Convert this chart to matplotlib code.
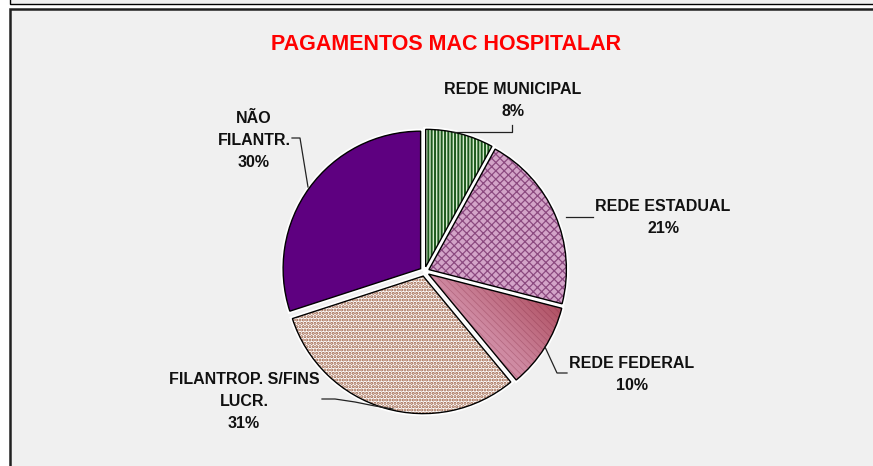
import numpy as np
import matplotlib
matplotlib.use("Agg")
import matplotlib.pyplot as plt
import matplotlib.patches as mpatches
from matplotlib.colors import LinearSegmentedColormap

plt.rcParams['font.family'] = ['Liberation Sans', 'DejaVu Sans']

# data
categories = ['REDE MUNICIPAL', 'REDE ESTADUAL', 'REDE FEDERAL',
              'FILANTROP. S/FINS\nLUCR.', 'NÃO\nFILANTR.']
shares = [8, 21, 10, 31, 30]
title = 'PAGAMENTOS MAC HOSPITALAR'

W, H = 873, 466
def fy(y):
    return H - y

fig = plt.figure(figsize=(W / 100, H / 100), dpi=100)
ax = fig.add_axes([0, 0, 1, 1])

# frames
ax.add_patch(mpatches.Rectangle((10, fy(3.5)), 900, 20, facecolor='#f0f0f0',
                                edgecolor='black', lw=1, zorder=0))
ax.add_patch(mpatches.Rectangle((9.5, fy(500)), 900, 500 - 8.5, facecolor='#f0f0f0',
                                edgecolor='#202020', lw=1.8, zorder=0))

ax.text(446, fy(44), title, color='#ff0000', fontsize=15.5, fontweight='bold',
        ha='center', va='center')

cx, cy, R = 424.5, 271.5, 137.5
fills = ['#d4ebcc', '#d3a4c8', '#c06478', 'white', '#5e0080']
hatches = ['|||||', 'xxxx', None, '.....', None]
hatch_cols = ['#1c5a1c', '#8c4a80', None, '#9a5c40', None]
hatch_lws = [1.4, 0.9, 0.5, 1.5, 1.0]

wedges, _ = ax.pie(shares, startangle=90, counterclock=False, explode=[4.8] * 5,
                   radius=R, center=(cx, fy(cy)), colors=fills,
                   wedgeprops=dict(edgecolor='white', linewidth=3.5), frame=True)
for w in wedges:
    w.set_zorder(1)

for i, w in enumerate(wedges):
    fill = mpatches.Wedge(w.center, w.r, w.theta1, w.theta2, facecolor=fills[i],
                          edgecolor='none', lw=0, zorder=2)
    ax.add_patch(fill)
    if hatches[i]:
        with plt.rc_context({'hatch.linewidth': hatch_lws[i]}):
            hp = mpatches.Wedge(w.center, w.r, w.theta1, w.theta2, facecolor='none',
                                edgecolor=hatch_cols[i], hatch=hatches[i], lw=0, zorder=3)
            ax.add_patch(hp)
    if i == 2:
        # gradient slice
        x0, x1 = w.center[0], w.center[0] + w.r
        y0, y1 = w.center[1] - w.r, w.center[1]
        gx, gy = np.meshgrid(np.linspace(0, 1, 200), np.linspace(0, 1, 200))
        g = (gx + gy) / 2
        cmap = LinearSegmentedColormap.from_list('fed', ['#e2a4bc', '#cf8aa2', '#a43a4a'])
        im = ax.imshow(g, extent=(x0, x1, y0, y1), origin='lower', cmap=cmap,
                       zorder=2.5, aspect='auto', interpolation='bilinear')
        im.set_clip_path(fill)
        with plt.rc_context({'hatch.linewidth': 0.5}):
            ax.add_patch(mpatches.Wedge(w.center, w.r, w.theta1, w.theta2, facecolor='none',
                                        edgecolor=(0.45, 0.1, 0.2, 0.3), hatch='\\\\\\\\\\',
                                        lw=0, zorder=3))
    ax.add_patch(mpatches.Wedge(w.center, w.r, w.theta1, w.theta2, facecolor='none',
                                edgecolor='black', lw=1.0, zorder=4))

# labels
lab_pos = [(513, 82), (663, 199), (632, 356), (244, 372), (254, 111)]
for name, v, (lx, ly) in zip(categories, shares, lab_pos):
    ax.text(lx, fy(ly), f'{name}\n{v}%', fontsize=11.5, fontweight='bold', ha='center',
            va='top', linespacing=1.6, color='#111111')

# leader lines
leaders = [
    [(453, 132), (512, 132), (512, 125)],
    [(566, 217), (593, 217)],
    [(545, 347), (557, 373), (567, 373)],
    [(322, 399), (335, 399), (355, 402), (375, 406), (393, 409)],
    [(292, 138), (300, 138), (308, 187)],
]
for pts in leaders:
    xs, ys = zip(*pts)
    ax.plot(xs, [fy(y) for y in ys], color='#222222', lw=0.9, zorder=5)

ax.set_xlim(0, W)
ax.set_ylim(0, H)
ax.set_aspect('auto')
ax.axis('off')
fig.savefig('out.png', dpi=100, facecolor='white')
